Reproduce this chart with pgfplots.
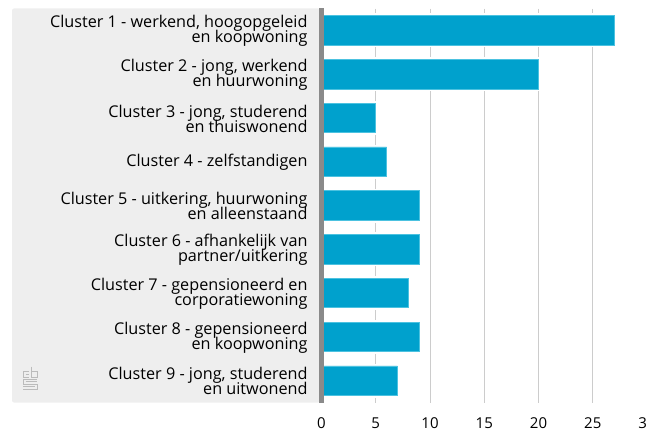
\documentclass[border=0pt]{standalone}
\usepackage{pgfplots}
\pgfplotsset{compat=1.18}
\usepackage{fontspec}
\setmainfont{Open Sans}
\definecolor{barblue}{HTML}{00A1CD}
\definecolor{barline}{HTML}{4CC2E0}
\definecolor{panel}{HTML}{EEEEEE}
\definecolor{axgrey}{HTML}{8A8A8A}
\definecolor{gridgrey}{HTML}{CCCCCC}
\definecolor{logogrey}{HTML}{BBBBBB}
\normallineskiplimit=-10pt
\lineskiplimit=-10pt
\begin{document}
\begin{tikzpicture}[x=1pt,y=-1pt]
\useasboundingbox (0,0) rectangle (647,430);
\fill[panel,rounded corners=2pt] (12,8.5) rectangle (320,402.5);
\begin{scope}[logogrey,line width=1pt]
\draw (29,371.5) -- (23,371.5) -- (23,377) -- (29,377);
\draw (25.5,374.2) -- (29,374.2);
\draw (31,366.5) -- (31,377) -- (37,377) -- (37,371.5) -- (31,371.5);
\draw (37,379) -- (23,379) -- (23,384) -- (37,384) -- (37,389) -- (23,389);
\draw (25.5,381.5) -- (37,381.5);
\draw (23,386.5) -- (34.5,386.5);
\end{scope}
\begin{axis}[
  anchor=north west, at={(321.5pt,-8.5pt)},
  scale only axis, width=325.5pt, height=394pt,
  xmin=0, xmax=30, ymin=0.5, ymax=9.5, y dir=reverse,
  xtick={0,5,...,30},
  ytick={1,...,9},
  yticklabels={
    {Cluster 1 - werkend, hoogopgeleid\\en koopwoning},
    {Cluster 2 - jong, werkend\\en huurwoning},
    {Cluster 3 - jong, studerend\\en thuiswonend},
    {Cluster 4 - zelfstandigen},
    {Cluster 5 - uitkering, huurwoning\\en alleenstaand},
    {Cluster 6 - afhankelijk van\\partner/uitkering},
    {Cluster 7 - gepensioneerd en\\corporatiewoning},
    {Cluster 8 - gepensioneerd\\en koopwoning},
    {Cluster 9 - jong, studerend\\en uitwonend}},
  axis line style={draw=none},
  major tick length=0pt,
  xmajorgrids, ymajorgrids=false,
  grid style={draw=gridgrey,line width=1pt},
  clip=false,
  /pgf/number format/assume math mode=true,
  xticklabel style={font=\fontsize{15}{15}\selectfont, text=black, inner ysep=0pt, yshift=-15pt},
  yticklabel style={font=\fontsize{16.2}{15}\selectfont, text=black, align=right, anchor=east, xshift=-10.5pt, yshift=-0.5pt},
  axis on top=false,
]
\addplot[xbar, bar shift=0pt, bar width=33pt, fill=white, draw=white, line width=0pt, forget plot]
  coordinates {(27,1)(20,2)(5,3)(6,4)(9,5)(9,6)(8,7)(9,8)(7,9)};
\addplot[xbar, bar shift=0pt, bar width=29.5pt, fill=barblue, draw=barline, line width=0.7pt]
  coordinates {(27,1)(20,2)(5,3)(6,4)(9,5)(9,6)(8,7)(9,8)(7,9)};
\end{axis}
\fill[axgrey] (318.5,8.5) rectangle (323.5,402.5);
\end{tikzpicture}
\end{document}
